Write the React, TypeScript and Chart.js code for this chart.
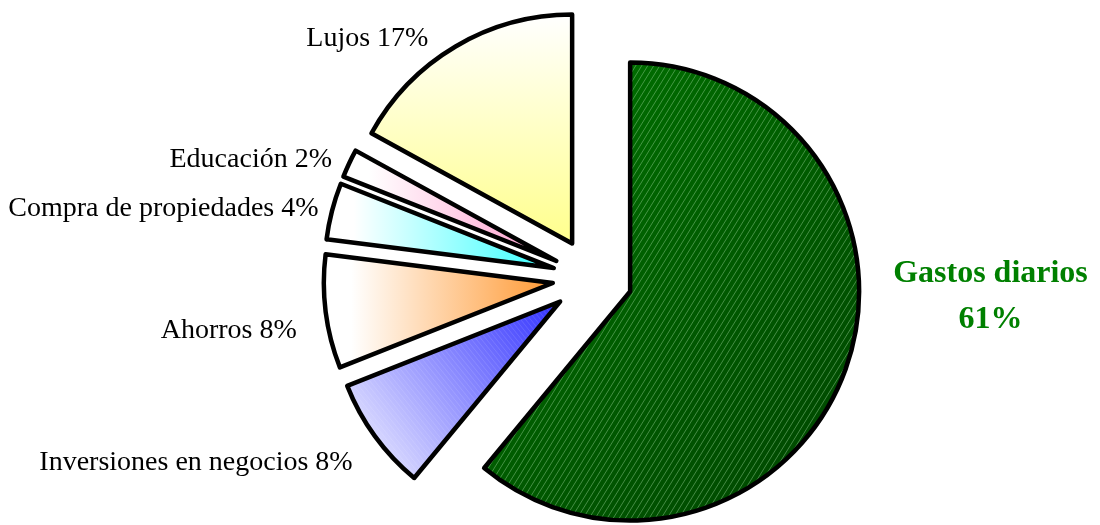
import React, { useEffect, useRef } from "react";
import { Chart, registerables } from "chart.js";

Chart.register(...registerables);

// ---- data ----
const categories = [
  "Gastos diarios",
  "Inversiones en negocios",
  "Ahorros",
  "Compra de propiedades",
  "Educación",
  "Lujos",
];
const shares = [61, 8, 8, 4, 2, 17];
const percentLabels = ["61%", "8%", "8%", "4%", "2%", "17%"];

// ---- styles ----
const EXPLODE = 40;
const PIE_RADIUS = 229;
const sliceEndColors = ["#004400", "#3030ff", "#ff9933", "#33ffff", "#ff99cc", "#ffff8c"];
const sliceStartColors = ["#007400", "#f7f7ff", "#ffffff", "#ffffff", "#ffffff", "#ffffff"];
const gradientDirs: [number, number][] = [
  [1, 1],
  [0.809, -0.588],
  [1, 0],
  [1, 0],
  [1, 0],
  [0, 1],
];
const LABEL_GAP = 20;
const labelNudges: [number, number][] = [
  [34, 5],
  [-6, 15],
  [-9, 16],
  [6, 3],
  [1, 5],
  [-17, 9],
];
const LABEL_FONT = "28px 'Liberation Serif', 'Times New Roman', serif";
const MAIN_FONT = "bold 32px 'Liberation Serif', 'Times New Roman', serif";

const fills: (CanvasGradient | CanvasPattern | null)[] = shares.map(() => null);

function sliceBox(el: any) {
  let minX = el.x, maxX = el.x, minY = el.y, maxY = el.y;
  const n = 64;
  for (let k = 0; k <= n; k++) {
    const a = el.startAngle + ((el.endAngle - el.startAngle) * k) / n;
    const px = el.x + Math.cos(a) * el.outerRadius;
    const py = el.y + Math.sin(a) * el.outerRadius;
    minX = Math.min(minX, px); maxX = Math.max(maxX, px);
    minY = Math.min(minY, py); maxY = Math.max(maxY, py);
  }
  return { minX, maxX, minY, maxY };
}

function gradientFor(ctx: CanvasRenderingContext2D, i: number, el: any) {
  const b = sliceBox(el);
  const cx = (b.minX + b.maxX) / 2, cy = (b.minY + b.maxY) / 2;
  const hx = (b.maxX - b.minX) / 2, hy = (b.maxY - b.minY) / 2;
  let [dx, dy] = gradientDirs[i];
  const len = Math.hypot(dx, dy);
  dx /= len; dy /= len;
  const ext = hx * Math.abs(dx) + hy * Math.abs(dy);
  const g = ctx.createLinearGradient(cx - dx * ext, cy - dy * ext, cx + dx * ext, cy + dy * ext);
  g.addColorStop(0, sliceStartColors[i]);
  if (i >= 2 && i <= 4) g.addColorStop(0.12, sliceStartColors[i]);
  g.addColorStop(1, sliceEndColors[i]);
  return { g, b };
}

function makeFill(chart: any, i: number, el: any) {
  const ctx: CanvasRenderingContext2D = chart.ctx;
  const { g, b } = gradientFor(ctx, i, el);
  if (i !== 0 && i !== 1) return g;
  const off = document.createElement("canvas");
  off.width = chart.width;
  off.height = chart.height;
  const oc = off.getContext("2d")!;
  const { g: g2 } = gradientFor(oc, i, el);
  oc.fillStyle = g2;
  oc.fillRect(0, 0, off.width, off.height);
  oc.save();
  oc.beginPath();
  oc.rect(b.minX - 5, b.minY - 5, b.maxX - b.minX + 10, b.maxY - b.minY + 10);
  oc.clip();
  if (i === 0) {
    oc.strokeStyle = "rgba(170,225,170,0.45)";
    oc.lineWidth = 0.9;
    const H = off.height;
    for (let x = -H; x < off.width + H; x += 6) {
      oc.beginPath();
      oc.moveTo(x, H);
      oc.lineTo(x + H * 0.62, 0);
      oc.stroke();
    }
  } else {
    oc.strokeStyle = "rgba(255,255,255,0.12)";
    oc.lineWidth = 1;
    const H = off.height;
    for (let x = -H; x < off.width + H; x += 5) {
      oc.beginPath();
      oc.moveTo(x, 0);
      oc.lineTo(x + H * 0.8, H);
      oc.stroke();
    }
  }
  oc.restore();
  return ctx.createPattern(off, "no-repeat");
}

const explodePlugin = {
  id: "explodeSlices",
  afterDatasetsUpdate(chart: any) {
    const meta = chart.getDatasetMeta(0);
    meta.data.forEach((el: any, i: number) => {
      const mid = (el.startAngle + el.endAngle) / 2;
      el.x += Math.cos(mid) * EXPLODE;
      el.y += Math.sin(mid) * EXPLODE;
      fills[i] = makeFill(chart, i, el);
    });
  },
};

const labelPlugin = {
  id: "sliceLabels",
  afterDatasetsDraw(chart: any) {
    const ctx: CanvasRenderingContext2D = chart.ctx;
    const meta = chart.getDatasetMeta(0);
    ctx.save();
    meta.data.forEach((el: any, i: number) => {
      const [nx, ny] = labelNudges[i];
      if (i === 0) {
        ctx.font = MAIN_FONT;
        ctx.fillStyle = "#008000";
        ctx.textBaseline = "middle";
        ctx.textAlign = "center";
        const w = Math.max(ctx.measureText(categories[0]).width, ctx.measureText(percentLabels[0]).width);
        const left = el.x + el.outerRadius + nx;
        const cy = el.y + ny;
        ctx.fillText(categories[0], left + w / 2, cy - 23);
        ctx.fillText(percentLabels[0], left + w / 2, cy + 23);
        return;
      }
      const mid = (el.startAngle + el.endAngle) / 2;
      const D = el.outerRadius + LABEL_GAP;
      const ax = el.x + Math.cos(mid) * D + nx;
      const ay = el.y + Math.sin(mid) * D + ny;
      ctx.font = LABEL_FONT;
      ctx.fillStyle = "#000000";
      ctx.textBaseline = "middle";
      ctx.textAlign = "right";
      ctx.fillText(`${categories[i]} ${percentLabels[i]}`, ax, ay);
    });
    ctx.restore();
  },
};

export default function App() {
  const ref = useRef<HTMLCanvasElement | null>(null);
  useEffect(() => {
    if (!ref.current) return;
    const chart = new Chart(ref.current, {
      type: "pie",
      data: {
        labels: categories,
        datasets: [
          {
            data: shares,
            radius: PIE_RADIUS,
            backgroundColor: (c: any) => fills[c.dataIndex] ?? sliceEndColors[c.dataIndex],
            borderColor: "#000000",
            borderWidth: 4.5,
            borderJoinStyle: "round",
          } as any,
        ],
      },
      options: {
        responsive: false,
        animation: false,
        events: [],
        layout: { padding: { left: 85, right: 0, top: 31, bottom: 0 } },
        plugins: {
          legend: { display: false },
          tooltip: { enabled: false },
        },
      },
      plugins: [explodePlugin, labelPlugin],
    });
    chart.update("none");
    return () => chart.destroy();
  }, []);
  return (
    <div style={{ position: "fixed", left: 0, top: 0, width: 1100, height: 525, background: "#fff" }}>
      <canvas ref={ref} width={1100} height={525} />
    </div>
  );
}
